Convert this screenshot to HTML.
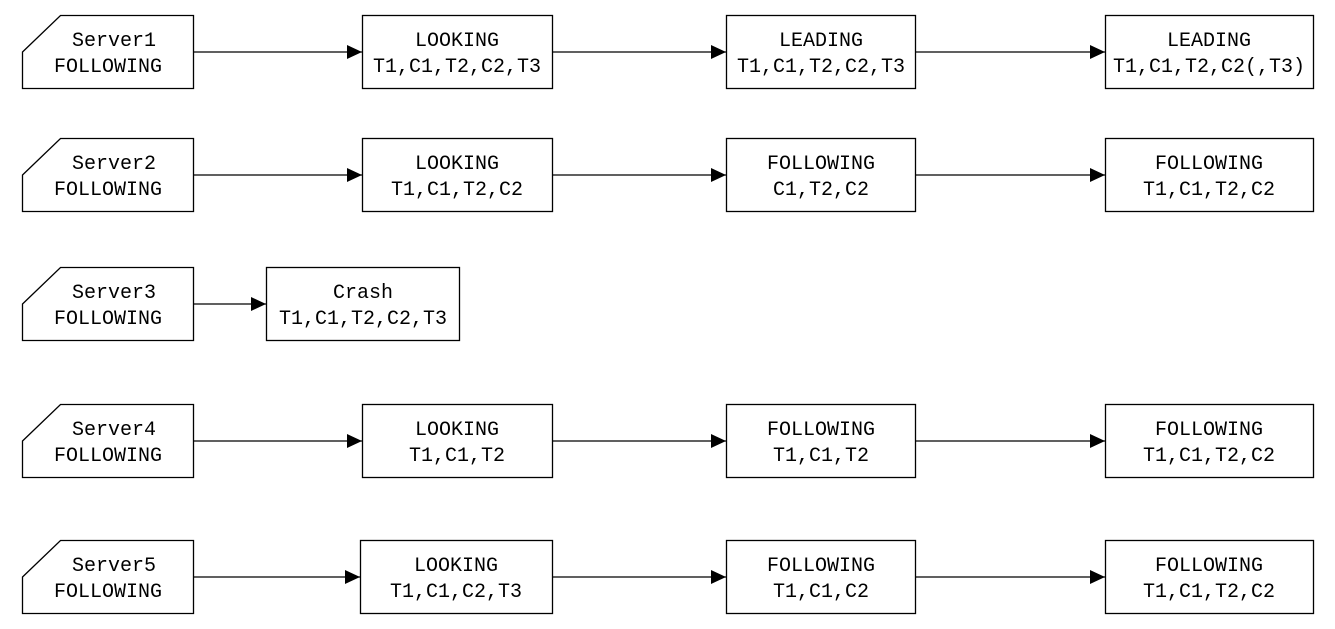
<!DOCTYPE html>
<html><head><meta charset="utf-8"><style>
html,body{margin:0;padding:0;background:#fff;}
svg{display:block;}
text{font-family:"Liberation Mono",monospace;font-size:20px;fill:#000;text-anchor:middle;}
</style></head><body>
<svg width="1335" height="629" viewBox="0 0 1335 629" xmlns="http://www.w3.org/2000/svg">
<defs><marker id="a" markerWidth="16" markerHeight="14" refX="15" refY="7" orient="auto" markerUnits="userSpaceOnUse"><path d="M0,0 L15,7 L0,14 Z" fill="#000"/></marker></defs>
<g fill="#fff" stroke="#000" stroke-width="1.3">
<path d="M22.5,52 L60.5,15.5 L193.5,15.5 L193.5,88.5 L22.5,88.5 Z"/>
<path d="M22.5,175 L60.5,138.5 L193.5,138.5 L193.5,211.5 L22.5,211.5 Z"/>
<path d="M22.5,304 L60.5,267.5 L193.5,267.5 L193.5,340.5 L22.5,340.5 Z"/>
<path d="M22.5,441 L60.5,404.5 L193.5,404.5 L193.5,477.5 L22.5,477.5 Z"/>
<path d="M22.5,577 L60.5,540.5 L193.5,540.5 L193.5,613.5 L22.5,613.5 Z"/>
<rect x="362.5" y="15.5" width="190" height="73"/><rect x="726.5" y="15.5" width="189" height="73"/><rect x="1105.5" y="15.5" width="208" height="73"/>
<rect x="362.5" y="138.5" width="190" height="73"/><rect x="726.5" y="138.5" width="189" height="73"/><rect x="1105.5" y="138.5" width="208" height="73"/>
<rect x="266.5" y="267.5" width="193" height="73"/>
<rect x="362.5" y="404.5" width="190" height="73"/><rect x="726.5" y="404.5" width="189" height="73"/><rect x="1105.5" y="404.5" width="208" height="73"/>
<rect x="360.5" y="540.5" width="192" height="73"/><rect x="726.5" y="540.5" width="189" height="73"/><rect x="1105.5" y="540.5" width="208" height="73"/>
</g>
<g stroke="#000" stroke-width="1.2" marker-end="url(#a)">
<line x1="194" y1="52" x2="362" y2="52"/><line x1="553" y1="52" x2="726" y2="52"/><line x1="916" y1="52" x2="1105" y2="52"/>
<line x1="194" y1="175" x2="362" y2="175"/><line x1="553" y1="175" x2="726" y2="175"/><line x1="916" y1="175" x2="1105" y2="175"/>
<line x1="194" y1="304" x2="266" y2="304"/>
<line x1="194" y1="441" x2="362" y2="441"/><line x1="553" y1="441" x2="726" y2="441"/><line x1="916" y1="441" x2="1105" y2="441"/>
<line x1="194" y1="577" x2="360" y2="577"/><line x1="553" y1="577" x2="726" y2="577"/><line x1="916" y1="577" x2="1105" y2="577"/>
</g>
<g>
<text x="114" y="46">Server1</text><text x="108" y="72">FOLLOWING</text>
<text x="457" y="46">LOOKING</text><text x="457" y="72">T1,C1,T2,C2,T3</text>
<text x="821" y="46">LEADING</text><text x="821" y="72">T1,C1,T2,C2,T3</text>
<text x="1209" y="46">LEADING</text><text x="1209" y="72">T1,C1,T2,C2(,T3)</text>

<text x="114" y="169">Server2</text><text x="108" y="195">FOLLOWING</text>
<text x="457" y="169">LOOKING</text><text x="457" y="195">T1,C1,T2,C2</text>
<text x="821" y="169">FOLLOWING</text><text x="821" y="195">C1,T2,C2</text>
<text x="1209" y="169">FOLLOWING</text><text x="1209" y="195">T1,C1,T2,C2</text>

<text x="114" y="298">Server3</text><text x="108" y="324">FOLLOWING</text>
<text x="363" y="298">Crash</text><text x="363" y="324">T1,C1,T2,C2,T3</text>

<text x="114" y="435">Server4</text><text x="108" y="461">FOLLOWING</text>
<text x="457" y="435">LOOKING</text><text x="457" y="461">T1,C1,T2</text>
<text x="821" y="435">FOLLOWING</text><text x="821" y="461">T1,C1,T2</text>
<text x="1209" y="435">FOLLOWING</text><text x="1209" y="461">T1,C1,T2,C2</text>

<text x="114" y="571">Server5</text><text x="108" y="597">FOLLOWING</text>
<text x="456" y="571">LOOKING</text><text x="456" y="597">T1,C1,C2,T3</text>
<text x="821" y="571">FOLLOWING</text><text x="821" y="597">T1,C1,C2</text>
<text x="1209" y="571">FOLLOWING</text><text x="1209" y="597">T1,C1,T2,C2</text>
</g>
</svg>
</body></html>
